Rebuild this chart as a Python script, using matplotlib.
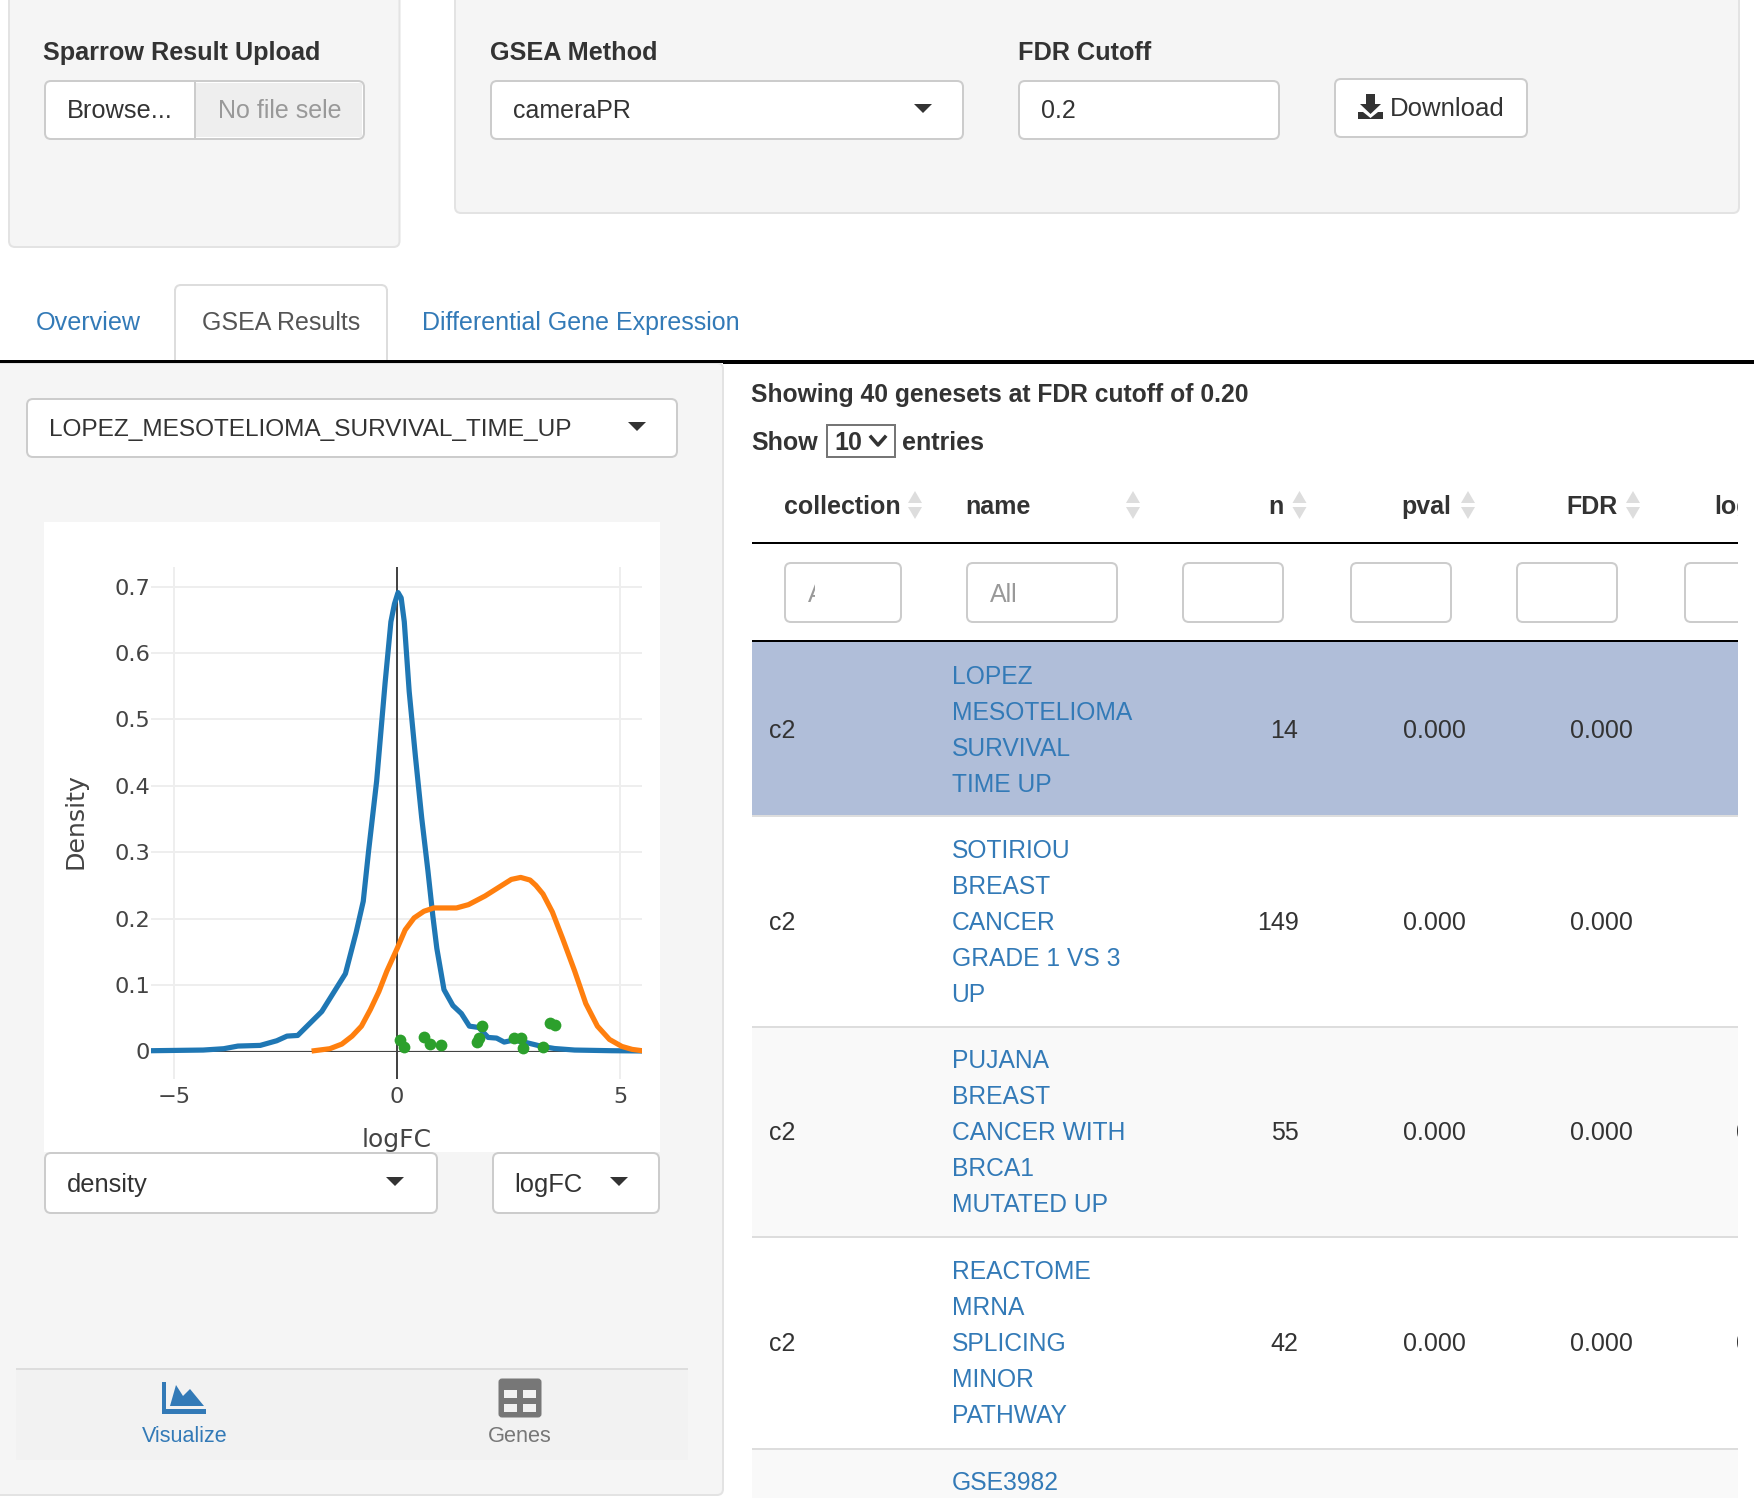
import matplotlib
matplotlib.use("Agg")
import matplotlib.pyplot as plt
from matplotlib.patches import FancyBboxPatch, Polygon, Rectangle

plt.rcParams["font.family"] = ["Liberation Sans", "DejaVu Sans"]

W, H = 1754, 1498

# density plot values
bg_x = [-5.51, -4.35, -3.89, -3.57, -3.07, -2.70, -2.47, -2.23, -1.69, -1.16, -0.92, -0.76, -0.64,
        -0.46, -0.27, -0.14, -0.06, 0.02, 0.09, 0.16, 0.27, 0.41, 0.55, 0.69, 0.80, 0.89, 1.05,
        1.25, 1.44, 1.62, 1.83, 2.04, 2.23, 2.40, 2.61, 2.88, 3.25, 3.53, 3.98, 4.81, 5.49]
bg_y = [0.001, 0.002, 0.004, 0.008, 0.009, 0.016, 0.023, 0.024, 0.060, 0.117, 0.179, 0.226, 0.302,
        0.407, 0.555, 0.647, 0.674, 0.691, 0.683, 0.647, 0.542, 0.444, 0.352, 0.272, 0.204, 0.155, 0.093,
        0.069, 0.057, 0.038, 0.036, 0.021, 0.020, 0.014, 0.017, 0.0135, 0.0074, 0.0043, 0.002, 0.001, 0.0006]
set_x = [-1.86, -1.51, -1.24, -1.01, -0.80, -0.60, -0.41, -0.23, 0.0, 0.18, 0.38, 0.60, 0.82, 1.33,
         1.60, 1.97, 2.56, 2.77, 2.98, 3.11, 3.27, 3.48, 3.71, 3.98, 4.23, 4.49, 4.76, 5.04, 5.27, 5.49]
set_y = [0.001, 0.004, 0.011, 0.023, 0.038, 0.063, 0.090, 0.121, 0.155, 0.183, 0.201, 0.211, 0.216, 0.216,
         0.221, 0.234, 0.259, 0.262, 0.258, 0.250, 0.237, 0.210, 0.170, 0.121, 0.072, 0.038, 0.018, 0.0074, 0.003, 0.001]
gene_x = [0.06, 0.15, 0.61, 0.74, 0.98, 1.80, 1.84, 1.91, 2.62, 2.77, 2.82, 3.27, 3.43, 3.55]
gene_y = [0.017, 0.0068, 0.021, 0.0104, 0.0092, 0.0135, 0.0197, 0.038, 0.0197, 0.0203, 0.0055, 0.0068, 0.0424, 0.040]
x_ticks = [-5, 0, 5]
x_tick_labels = ["\u22125", "0", "5"]
y_ticks = [0, 0.1, 0.2, 0.3, 0.4, 0.5, 0.6, 0.7]
y_tick_labels = ["0", "0.1", "0.2", "0.3", "0.4", "0.5", "0.6", "0.7"]

# table contents
headers = ["collection", "name", "n", "pval", "FDR", "logFC"]
collections = ["c2", "c2", "c2", "c2"]
row_names = [
    ["LOPEZ", "MESOTELIOMA", "SURVIVAL", "TIME UP"],
    ["SOTIRIOU", "BREAST", "CANCER", "GRADE 1 VS 3", "UP"],
    ["PUJANA", "BREAST", "CANCER WITH", "BRCA1", "MUTATED UP"],
    ["REACTOME", "MRNA", "SPLICING", "MINOR", "PATHWAY"],
]
row_n = ["14", "149", "55", "42"]
row_pval = ["0.000", "0.000", "0.000", "0.000"]
row_fdr = ["0.000", "0.000", "0.000", "0.000"]
next_name = "GSE3982"

DARK = "#333333"
BLUE = "#337ab7"
GREY = "#999999"
BORDER = "#cccccc"
PX = 0.72

fig = plt.figure(figsize=(W / 100, H / 100), dpi=100, facecolor="white")
ui = fig.add_axes([0, 0, 1, 1])
ui.set_xlim(0, W)
ui.set_ylim(H, 0)
ui.axis("off")


def box(x0, y0, x1, y1, fc="white", ec=BORDER, r=6, lw=2, z=1):
    p = FancyBboxPatch((x0 + r, y0 + r), x1 - x0 - 2 * r, y1 - y0 - 2 * r,
                       boxstyle=f"round,pad={r},rounding_size={r}",
                       fc=fc, ec=ec, lw=lw * PX, zorder=z)
    ui.add_patch(p)
    return p


def rect(x0, y0, x1, y1, fc, z=1):
    ui.add_patch(Rectangle((x0, y0), x1 - x0, y1 - y0, fc=fc, ec="none", zorder=z))


def label(x, yc, s, color=DARK, size=18, weight="normal", ha="left", clip=None, z=5):
    t = ui.text(x, yc + 9, s, color=color, fontsize=size, fontweight=weight,
                ha=ha, va="baseline", zorder=z)
    if clip is not None:
        t.set_clip_on(True)
        t.set_clip_path(Rectangle((clip[0], clip[1]), clip[2] - clip[0], clip[3] - clip[1],
                                  transform=ui.transData))
    return t


def caret(x, y):
    ui.add_patch(Polygon([(x - 9, y - 4), (x + 9, y - 4), (x, y + 5)], fc=DARK, ec="none", zorder=5))


def sort_arrows(x, y):
    ui.add_patch(Polygon([(x - 7, y - 2), (x + 7, y - 2), (x, y - 14)], fc="#dddddd", ec="none", zorder=5))
    ui.add_patch(Polygon([(x - 7, y + 2), (x + 7, y + 2), (x, y + 14)], fc="#dddddd", ec="none", zorder=5))


# top wells
box(9, -12, 399.5, 247, fc="#f5f5f5", ec="#e3e3e3")
box(455, -12, 1739, 213, fc="#f5f5f5", ec="#e3e3e3")
label(43, 51, "Sparrow Result Upload", weight="bold", size=18.2)
box(45, 81, 364, 139)
rect(196, 83, 362, 137, "#eeeeee", z=2)
ui.plot([195, 195], [82, 138], color=BORDER, lw=2 * PX, zorder=3)
label(67, 109, "Browse...", size=18.3)
label(218, 109, "No file selected", color=GREY, clip=(200, 80, 341, 139))
label(490, 51, "GSEA Method", weight="bold", size=18.2)
box(491, 81, 963, 139)
label(513, 109, "cameraPR")
caret(923, 108)
label(1018, 51, "FDR Cutoff", weight="bold", size=18.2)
box(1019, 81, 1279, 139)
label(1041, 109, "0.2")
box(1335, 79, 1527, 137)
label(1390, 107, "Download", size=18.5)
# download icon
ui.add_patch(Polygon([(1366, 94), (1375, 94), (1375, 104), (1381, 104), (1370.5, 114), (1360, 104), (1366, 104)],
                     fc=DARK, ec="none", zorder=5))
ui.add_patch(Polygon([(1358, 112), (1363, 112), (1370.5, 118), (1378, 112), (1383, 112), (1383, 119), (1358, 119)],
                     fc=DARK, ec="none", zorder=5))

# tabs
ui.plot([175, 175], [360, 290], color="#dddddd", lw=2 * PX, zorder=2)
ui.plot([387, 387], [360, 290], color="#dddddd", lw=2 * PX, zorder=2)
box(175, 285, 387, 372, fc="white", ec="#dddddd", z=1)
rect(170, 361, 392, 380, "white", z=2)
label(36, 321, "Overview", color=BLUE, size=18.1)
label(202, 321, "GSEA Results", color="#555555")
label(421.5, 321, "Differential Gene Expression", color=BLUE)

# left panel
box(-20, 363, 723, 1495, fc="#f5f5f5", ec="#e3e3e3", z=2)
rect(0, 360, 723, 363, "black", z=3)
rect(723, 360, W, 364, "black", z=3)
box(27, 399, 677, 457, z=3)
label(49, 427, "LOPEZ_MESOTELIOMA_SURVIVAL_TIME_UP", size=17.58)
caret(637, 426)
rect(44, 522, 660, 1152, "white", z=3)
box(45, 1153, 437, 1213, z=3)
label(67, 1183, "density", size=18.4)
caret(395, 1181)
box(493, 1153, 659, 1213, z=3)
label(514, 1183, "logFC", size=18.4)
caret(619, 1181)

# bottom nav of the panel
rect(16, 1369, 688, 1460, "#f2f2f2", z=3)
rect(16, 1368, 688, 1370, "#dddddd", z=3)
ui.add_patch(Polygon([(162, 1382), (166, 1382), (166, 1409), (206, 1409), (206, 1414), (162, 1414)],
                     fc=BLUE, ec="none", zorder=5))
ui.add_patch(Polygon([(170, 1406), (176, 1385), (183, 1396), (190, 1389), (204, 1406)],
                     fc=BLUE, ec="none", zorder=5))
label(184.5, 1433, "Visualize", color=BLUE, size=15.5, ha="center")
box(499, 1379, 541, 1417, fc="#777777", ec="#777777", r=3, lw=1, z=4)
for cx, cy in [(504, 1390), (523, 1390), (504, 1404), (523, 1404)]:
    rect(cx, cy, cx + 13, cy + 8, "#f2f2f2", z=5)
label(520, 1433, "Genes", color="#777777", size=15.7, ha="center")

# table area
label(751, 393, "Showing 40 genesets at FDR cutoff of 0.20", weight="bold", size=17.7)
label(751, 441, "Show", weight="bold")
ui.add_patch(Rectangle((827, 425), 68, 32, fc="white", ec="#767676", lw=2 * PX, zorder=3))
label(834, 441, "10", weight="bold")
ui.plot([871, 878, 885], [437, 445, 437], color=DARK, lw=3.5 * PX, zorder=5)
label(902, 441, "entries", weight="bold")

clip_tbl = (752, 480, 1738, H)
head_x = [784, 965.5, 1268.5, 1401.5, 1566.5, 1714]
arrow_x = [915, 1133, 1299.5, 1468, 1633]
for hx, ht in zip(head_x, headers):
    label(hx, 505, ht, weight="bold", clip=clip_tbl)
for ax_ in arrow_x:
    sort_arrows(ax_, 505)
rect(752, 542, 1738, 544, "black", z=3)
filter_x = [(785, 901), (967, 1117), (1183, 1283), (1351, 1451), (1517, 1617), (1685, 1790)]
for x0, x1 in filter_x:
    p = box(x0, 563, x1, 622)
    p.set_clip_path(Rectangle((752, 540), 986, 100, transform=ui.transData))
label(808, 593, "All", color=GREY, clip=(800, 562, 815, 622))
label(990, 593, "All", color=GREY)
rect(752, 640, 1738, 642, "black", z=3)

row_top = [642, 817, 1027, 1237]
row_bot = [816, 1027, 1237, 1449]
row_fill = ["#b0bed9", "white", "#f9f9f9", "white"]
for i in range(len(row_n)):
    rect(752, row_top[i], 1738, row_bot[i], row_fill[i], z=2)
    rect(752, row_bot[i] - 1, 1738, row_bot[i] + 1, "#dddddd", z=3)
    yc = (row_top[i] + row_bot[i]) / 2 - (1 if i > 0 else 0)
    label(769.5, yc, collections[i])
    lines = row_names[i]
    for j, s in enumerate(lines):
        label(951.5, yc + (j - (len(lines) - 1) / 2) * 36, s, color=BLUE, size=17.75)
    label(1298.5, yc, row_n[i], ha="right")
    label(1466, yc, row_pval[i], ha="right")
    label(1633, yc, row_fdr[i], ha="right")
    if i >= 2:
        label(1736, yc, "0", clip=clip_tbl)
rect(752, 1450, 1738, H, "#f9f9f9", z=2)
label(951.5, 1481, next_name, color=BLUE, size=17.75)

# density plot
left, right, top, bottom = 151.4, 642, 567, 1079
ax = fig.add_axes([left / W, 1 - bottom / H, (right - left) / W, (bottom - top) / H])
ax.patch.set_alpha(0)
ax.set_xlim(-5.51, 5.49)
ax.set_ylim(-0.0416, 0.7295)
for s in ax.spines.values():
    s.set_visible(False)
ax.set_xticks(x_ticks)
ax.set_xticklabels(x_tick_labels)
ax.set_yticks(y_ticks)
ax.set_yticklabels(y_tick_labels)
ax.tick_params(length=0, colors="#444444", labelsize=16.2, pad=1)
ax.tick_params(axis="x", pad=6)
for t in ax.get_xticklabels() + ax.get_yticklabels():
    t.set_fontfamily("DejaVu Sans")
ax.grid(True, color="#eeeeee", lw=2 * PX, zorder=0)
ax.set_axisbelow(True)
ax.axvline(0, color="#444444", lw=2 * PX, zorder=1)
ax.axhline(0, color="#444444", lw=1 * PX, zorder=1)
ax.plot(bg_x, bg_y, color="#1f77b4", lw=5.2 * PX, zorder=3, solid_joinstyle="round")
ax.plot(set_x, set_y, color="#ff7f0e", lw=5.2 * PX, zorder=4, solid_joinstyle="round")
ax.scatter(gene_x, gene_y, s=72, color="#2ca02c", linewidths=0, zorder=5, clip_on=False)
ax.set_xlabel("logFC", fontsize=18, color="#444444", fontfamily="DejaVu Sans")
ax.set_ylabel("Density", fontsize=18.2, color="#444444", fontfamily="DejaVu Sans")
ax.xaxis.set_label_coords((396.5 - left) / (right - left), (bottom - 1147) / (bottom - top))
ax.yaxis.set_label_coords((75 - left) / (right - left), (bottom - 821) / (bottom - top))
ax.xaxis.label.set_va("baseline")
ax.yaxis.label.set_va("center")

fig.savefig("out.png", dpi=100)
